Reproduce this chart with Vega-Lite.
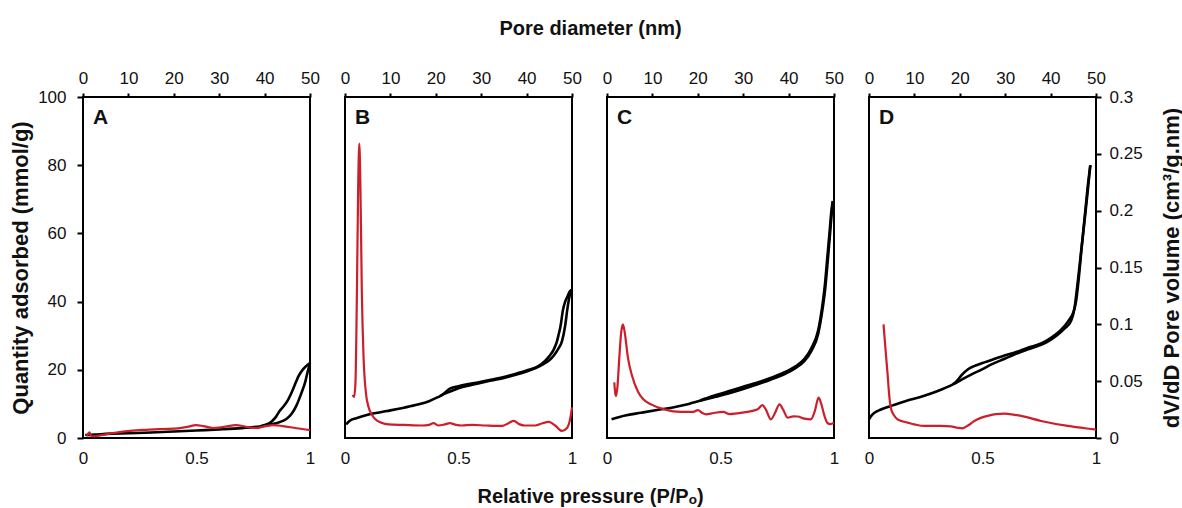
{
  "$schema": "https://vega.github.io/schema/vega-lite/v6.json",
  "padding": {"left": 8, "top": 17, "right": 5, "bottom": 5},
  "config": {
    "font": "Liberation Sans",
    "view": {"stroke": "black", "strokeWidth": 2},
    "axis": {"grid": false, "domain": false, "labelFontSize": 17, "labelColor": "#111", "labelFlush": false, "labelOverlap": false, "tickColor": "black", "tickWidth": 2, "titleFontSize": 20, "titleFontWeight": "bold", "titleColor": "#111"}
  },
  "datasets": {
    "iso": [
      {"panel":"A","branch":"ads","p":0.01,"q":0.9},{"panel":"A","branch":"ads","p":0.05,"q":1.0},{"panel":"A","branch":"ads","p":0.1,"q":1.2},{"panel":"A","branch":"ads","p":0.2,"q":1.4},{"panel":"A","branch":"ads","p":0.3,"q":1.6},{"panel":"A","branch":"ads","p":0.4,"q":1.9},{"panel":"A","branch":"ads","p":0.5,"q":2.2},{"panel":"A","branch":"ads","p":0.6,"q":2.5},{"panel":"A","branch":"ads","p":0.7,"q":2.9},{"panel":"A","branch":"ads","p":0.8,"q":3.6},{"panel":"A","branch":"ads","p":0.85,"q":4.3},{"panel":"A","branch":"ads","p":0.88,"q":5.0},{"panel":"A","branch":"ads","p":0.9,"q":5.8},{"panel":"A","branch":"ads","p":0.92,"q":7.2},{"panel":"A","branch":"ads","p":0.94,"q":9.5},{"panel":"A","branch":"ads","p":0.96,"q":12.8},{"panel":"A","branch":"ads","p":0.98,"q":16.7},{"panel":"A","branch":"ads","p":0.99,"q":19.5},{"panel":"A","branch":"ads","p":1.0,"q":22},
      {"panel":"A","branch":"des","p":1.0,"q":22},{"panel":"A","branch":"des","p":0.99,"q":21.5},{"panel":"A","branch":"des","p":0.97,"q":20.2},{"panel":"A","branch":"des","p":0.95,"q":18.2},{"panel":"A","branch":"des","p":0.94,"q":16.7},{"panel":"A","branch":"des","p":0.92,"q":13.5},{"panel":"A","branch":"des","p":0.9,"q":10.8},{"panel":"A","branch":"des","p":0.88,"q":9.0},{"panel":"A","branch":"des","p":0.866,"q":7.9},{"panel":"A","branch":"des","p":0.85,"q":6.2},{"panel":"A","branch":"des","p":0.83,"q":4.8},{"panel":"A","branch":"des","p":0.8,"q":3.8},{"panel":"A","branch":"des","p":0.78,"q":3.4},

      {"panel":"B","branch":"ads","p":0.005,"q":4.0},{"panel":"B","branch":"ads","p":0.02,"q":5.0},{"panel":"B","branch":"ads","p":0.05,"q":5.8},{"panel":"B","branch":"ads","p":0.1,"q":6.8},{"panel":"B","branch":"ads","p":0.15,"q":7.5},{"panel":"B","branch":"ads","p":0.2,"q":8.1},{"panel":"B","branch":"ads","p":0.26,"q":8.9},{"panel":"B","branch":"ads","p":0.32,"q":9.8},{"panel":"B","branch":"ads","p":0.37,"q":10.8},{"panel":"B","branch":"ads","p":0.41,"q":12.0},{"panel":"B","branch":"ads","p":0.44,"q":13.0},{"panel":"B","branch":"ads","p":0.47,"q":13.8},{"panel":"B","branch":"ads","p":0.5,"q":14.6},{"panel":"B","branch":"ads","p":0.56,"q":15.6},{"panel":"B","branch":"ads","p":0.62,"q":16.5},{"panel":"B","branch":"ads","p":0.7,"q":17.6},{"panel":"B","branch":"ads","p":0.76,"q":18.7},{"panel":"B","branch":"ads","p":0.8,"q":19.5},{"panel":"B","branch":"ads","p":0.84,"q":20.5},{"panel":"B","branch":"ads","p":0.87,"q":21.5},{"panel":"B","branch":"ads","p":0.9,"q":22.8},{"panel":"B","branch":"ads","p":0.92,"q":24.2},{"panel":"B","branch":"ads","p":0.94,"q":26.2},{"panel":"B","branch":"ads","p":0.956,"q":28.4},{"panel":"B","branch":"ads","p":0.97,"q":33},{"panel":"B","branch":"ads","p":0.98,"q":38},{"panel":"B","branch":"ads","p":0.99,"q":41.8},{"panel":"B","branch":"ads","p":1.0,"q":43.5},
      {"panel":"B","branch":"des","p":1.0,"q":43.5},{"panel":"B","branch":"des","p":0.99,"q":43},{"panel":"B","branch":"des","p":0.98,"q":41.5},{"panel":"B","branch":"des","p":0.97,"q":40},{"panel":"B","branch":"des","p":0.96,"q":37.5},{"panel":"B","branch":"des","p":0.95,"q":33},{"panel":"B","branch":"des","p":0.94,"q":30},{"panel":"B","branch":"des","p":0.934,"q":28.4},{"panel":"B","branch":"des","p":0.92,"q":26},{"panel":"B","branch":"des","p":0.9,"q":24},{"panel":"B","branch":"des","p":0.88,"q":22.5},{"panel":"B","branch":"des","p":0.85,"q":21},{"panel":"B","branch":"des","p":0.8,"q":19.8},{"panel":"B","branch":"des","p":0.75,"q":18.8},{"panel":"B","branch":"des","p":0.7,"q":17.9},{"panel":"B","branch":"des","p":0.6,"q":16.5},{"panel":"B","branch":"des","p":0.5,"q":15.2},{"panel":"B","branch":"des","p":0.46,"q":14.4},{"panel":"B","branch":"des","p":0.44,"q":13.3},{"panel":"B","branch":"des","p":0.42,"q":12.3},

      {"panel":"C","branch":"ads","p":0.02,"q":5.5},{"panel":"C","branch":"ads","p":0.08,"q":6.6},{"panel":"C","branch":"ads","p":0.15,"q":7.4},{"panel":"C","branch":"ads","p":0.22,"q":8.2},{"panel":"C","branch":"ads","p":0.3,"q":9.1},{"panel":"C","branch":"ads","p":0.36,"q":10.0},{"panel":"C","branch":"ads","p":0.41,"q":10.9},{"panel":"C","branch":"ads","p":0.48,"q":12.1},{"panel":"C","branch":"ads","p":0.546,"q":13.3},{"panel":"C","branch":"ads","p":0.6,"q":14.4},{"panel":"C","branch":"ads","p":0.66,"q":15.7},{"panel":"C","branch":"ads","p":0.72,"q":17.1},{"panel":"C","branch":"ads","p":0.78,"q":18.7},{"panel":"C","branch":"ads","p":0.83,"q":20.5},{"panel":"C","branch":"ads","p":0.87,"q":22.6},{"panel":"C","branch":"ads","p":0.9,"q":25.5},{"panel":"C","branch":"ads","p":0.93,"q":30.4},{"panel":"C","branch":"ads","p":0.95,"q":38},{"panel":"C","branch":"ads","p":0.96,"q":43},{"panel":"C","branch":"ads","p":0.97,"q":50},{"panel":"C","branch":"ads","p":0.98,"q":57.8},{"panel":"C","branch":"ads","p":0.99,"q":66},{"panel":"C","branch":"ads","p":0.995,"q":69.5},
      {"panel":"C","branch":"des","p":0.995,"q":69.5},{"panel":"C","branch":"des","p":0.99,"q":67.5},{"panel":"C","branch":"des","p":0.98,"q":60},{"panel":"C","branch":"des","p":0.97,"q":52.5},{"panel":"C","branch":"des","p":0.96,"q":45},{"panel":"C","branch":"des","p":0.95,"q":39.5},{"panel":"C","branch":"des","p":0.93,"q":31.5},{"panel":"C","branch":"des","p":0.9,"q":26.3},{"panel":"C","branch":"des","p":0.87,"q":23.2},{"panel":"C","branch":"des","p":0.83,"q":21},{"panel":"C","branch":"des","p":0.78,"q":19.2},{"panel":"C","branch":"des","p":0.72,"q":17.6},{"panel":"C","branch":"des","p":0.66,"q":16.2},{"panel":"C","branch":"des","p":0.6,"q":15},{"panel":"C","branch":"des","p":0.546,"q":13.9},{"panel":"C","branch":"des","p":0.48,"q":12.6},{"panel":"C","branch":"des","p":0.43,"q":11.5},{"panel":"C","branch":"des","p":0.41,"q":11.0},

      {"panel":"D","branch":"ads","p":0.0,"q":5.5},{"panel":"D","branch":"ads","p":0.01,"q":6.5},{"panel":"D","branch":"ads","p":0.024,"q":7.4},{"panel":"D","branch":"ads","p":0.05,"q":8.3},{"panel":"D","branch":"ads","p":0.097,"q":9.4},{"panel":"D","branch":"ads","p":0.16,"q":10.8},{"panel":"D","branch":"ads","p":0.24,"q":12.3},{"panel":"D","branch":"ads","p":0.3,"q":13.7},{"panel":"D","branch":"ads","p":0.37,"q":15.7},{"panel":"D","branch":"ads","p":0.41,"q":17.2},{"panel":"D","branch":"ads","p":0.45,"q":18.6},{"panel":"D","branch":"ads","p":0.5,"q":20.2},{"panel":"D","branch":"ads","p":0.537,"q":21.5},{"panel":"D","branch":"ads","p":0.6,"q":23.3},{"panel":"D","branch":"ads","p":0.64,"q":24.5},{"panel":"D","branch":"ads","p":0.7,"q":26.0},{"panel":"D","branch":"ads","p":0.758,"q":27.3},{"panel":"D","branch":"ads","p":0.8,"q":28.8},{"panel":"D","branch":"ads","p":0.83,"q":30.2},{"panel":"D","branch":"ads","p":0.86,"q":32},{"panel":"D","branch":"ads","p":0.89,"q":34.3},{"panel":"D","branch":"ads","p":0.905,"q":38},{"panel":"D","branch":"ads","p":0.92,"q":46},{"panel":"D","branch":"ads","p":0.935,"q":55},{"panel":"D","branch":"ads","p":0.95,"q":64},{"panel":"D","branch":"ads","p":0.963,"q":72},{"panel":"D","branch":"ads","p":0.975,"q":80},
      {"panel":"D","branch":"des","p":0.975,"q":80},{"panel":"D","branch":"des","p":0.964,"q":74},{"panel":"D","branch":"des","p":0.952,"q":66},{"panel":"D","branch":"des","p":0.937,"q":56},{"panel":"D","branch":"des","p":0.922,"q":45.5},{"panel":"D","branch":"des","p":0.912,"q":40},{"panel":"D","branch":"des","p":0.9,"q":36.8},{"panel":"D","branch":"des","p":0.88,"q":34.5},{"panel":"D","branch":"des","p":0.85,"q":32},{"panel":"D","branch":"des","p":0.8,"q":29.3},{"panel":"D","branch":"des","p":0.758,"q":27.7},{"panel":"D","branch":"des","p":0.7,"q":26.5},{"panel":"D","branch":"des","p":0.64,"q":25.0},{"panel":"D","branch":"des","p":0.6,"q":24.3},{"panel":"D","branch":"des","p":0.537,"q":22.8},{"panel":"D","branch":"des","p":0.5,"q":22},{"panel":"D","branch":"des","p":0.46,"q":21},{"panel":"D","branch":"des","p":0.435,"q":20.1},{"panel":"D","branch":"des","p":0.41,"q":18.6},{"panel":"D","branch":"des","p":0.385,"q":16.6},{"panel":"D","branch":"des","p":0.37,"q":15.8}
    ],
    "psd": [
      {"panel":"A","d":0.8,"v":0.002},{"panel":"A","d":1.1,"v":0.0035},{"panel":"A","d":1.4,"v":0.005},{"panel":"A","d":1.8,"v":0.002},{"panel":"A","d":2.5,"v":0.0015},{"panel":"A","d":4,"v":0.0025},{"panel":"A","d":7,"v":0.0045},{"panel":"A","d":10.4,"v":0.0062},{"panel":"A","d":14,"v":0.0072},{"panel":"A","d":17.6,"v":0.0079},{"panel":"A","d":21,"v":0.0085},{"panel":"A","d":23,"v":0.0098},{"panel":"A","d":24.9,"v":0.0114},{"panel":"A","d":26.5,"v":0.0105},{"panel":"A","d":28.6,"v":0.0088},{"panel":"A","d":31,"v":0.0098},{"panel":"A","d":33.7,"v":0.0114},{"panel":"A","d":36,"v":0.0098},{"panel":"A","d":38.1,"v":0.0088},{"panel":"A","d":40,"v":0.0102},{"panel":"A","d":41.9,"v":0.0114},{"panel":"A","d":44,"v":0.0105},{"panel":"A","d":47,"v":0.0086},{"panel":"A","d":50,"v":0.007},

      {"panel":"B","d":1.7,"v":0.038},{"panel":"B","d":2.0,"v":0.036},{"panel":"B","d":2.3,"v":0.048},{"panel":"B","d":2.6,"v":0.12},{"panel":"B","d":2.9,"v":0.22},{"panel":"B","d":3.15,"v":0.259},{"panel":"B","d":3.4,"v":0.22},{"panel":"B","d":3.7,"v":0.13},{"panel":"B","d":4.1,"v":0.07},{"panel":"B","d":4.6,"v":0.04},{"panel":"B","d":5.2,"v":0.027},{"panel":"B","d":6.0,"v":0.02},{"panel":"B","d":6.7,"v":0.0164},{"panel":"B","d":8,"v":0.0135},{"panel":"B","d":9.6,"v":0.012},{"panel":"B","d":13,"v":0.0115},{"panel":"B","d":17,"v":0.011},{"panel":"B","d":18.5,"v":0.0115},{"panel":"B","d":19.5,"v":0.013},{"panel":"B","d":20.6,"v":0.011},{"panel":"B","d":22,"v":0.012},{"panel":"B","d":23.1,"v":0.013},{"panel":"B","d":24.5,"v":0.0115},{"panel":"B","d":25.7,"v":0.011},{"panel":"B","d":28,"v":0.0115},{"panel":"B","d":31,"v":0.011},{"panel":"B","d":34.6,"v":0.0106},{"panel":"B","d":36,"v":0.013},{"panel":"B","d":37.2,"v":0.015},{"panel":"B","d":38.5,"v":0.012},{"panel":"B","d":39.5,"v":0.011},{"panel":"B","d":41.9,"v":0.011},{"panel":"B","d":43.5,"v":0.013},{"panel":"B","d":44.9,"v":0.0141},{"panel":"B","d":46.3,"v":0.011},{"panel":"B","d":47.8,"v":0.0062},{"panel":"B","d":48.9,"v":0.0088},{"panel":"B","d":49.6,"v":0.017},{"panel":"B","d":50,"v":0.027},

      {"panel":"C","d":1.6,"v":0.049},{"panel":"C","d":1.8,"v":0.04},{"panel":"C","d":2.0,"v":0.037},{"panel":"C","d":2.3,"v":0.045},{"panel":"C","d":2.7,"v":0.07},{"panel":"C","d":3.1,"v":0.092},{"panel":"C","d":3.5,"v":0.1},{"panel":"C","d":3.9,"v":0.093},{"panel":"C","d":4.6,"v":0.071},{"panel":"C","d":5.5,"v":0.055},{"panel":"C","d":6.8,"v":0.041},{"panel":"C","d":8,"v":0.034},{"panel":"C","d":9.7,"v":0.0296},{"panel":"C","d":12.6,"v":0.0252},{"panel":"C","d":16.3,"v":0.0229},{"panel":"C","d":19,"v":0.023},{"panel":"C","d":20,"v":0.0246},{"panel":"C","d":21,"v":0.022},{"panel":"C","d":21.8,"v":0.0208},{"panel":"C","d":23.5,"v":0.022},{"panel":"C","d":25.6,"v":0.0229},{"panel":"C","d":27,"v":0.021},{"panel":"C","d":28.6,"v":0.0217},{"panel":"C","d":31,"v":0.023},{"panel":"C","d":33.2,"v":0.0252},{"panel":"C","d":34.2,"v":0.029},{"panel":"C","d":35,"v":0.025},{"panel":"C","d":36.1,"v":0.0164},{"panel":"C","d":37,"v":0.022},{"panel":"C","d":38,"v":0.0296},{"panel":"C","d":38.8,"v":0.025},{"panel":"C","d":39.8,"v":0.0179},{"panel":"C","d":41,"v":0.019},{"panel":"C","d":42,"v":0.0189},{"panel":"C","d":43.5,"v":0.017},{"panel":"C","d":44.9,"v":0.0164},{"panel":"C","d":45.8,"v":0.024},{"panel":"C","d":46.6,"v":0.0355},{"panel":"C","d":47.2,"v":0.03},{"panel":"C","d":47.9,"v":0.0194},{"panel":"C","d":48.6,"v":0.013},{"panel":"C","d":49.2,"v":0.0122},{"panel":"C","d":50,"v":0.0135},

      {"panel":"D","d":3.2,"v":0.1},{"panel":"D","d":3.5,"v":0.085},{"panel":"D","d":3.8,"v":0.07},{"panel":"D","d":4.1,"v":0.056},{"panel":"D","d":4.4,"v":0.04},{"panel":"D","d":4.8,"v":0.0267},{"panel":"D","d":5.5,"v":0.02},{"panel":"D","d":6.3,"v":0.0164},{"panel":"D","d":7.5,"v":0.0145},{"panel":"D","d":8.5,"v":0.0135},{"panel":"D","d":10,"v":0.012},{"panel":"D","d":12.2,"v":0.0106},{"panel":"D","d":15.8,"v":0.0106},{"panel":"D","d":18,"v":0.0103},{"panel":"D","d":19.5,"v":0.009},{"panel":"D","d":20.6,"v":0.0085},{"panel":"D","d":21.8,"v":0.011},{"panel":"D","d":23.2,"v":0.015},{"panel":"D","d":24.5,"v":0.0175},{"panel":"D","d":26.1,"v":0.0194},{"panel":"D","d":28,"v":0.021},{"panel":"D","d":29.8,"v":0.0214},{"panel":"D","d":31.5,"v":0.0208},{"panel":"D","d":33.5,"v":0.0194},{"panel":"D","d":37.9,"v":0.015},{"panel":"D","d":43.8,"v":0.0106},{"panel":"D","d":49.6,"v":0.0076},{"panel":"D","d":50,"v":0.0074}
    ]
  },
  "spacing": 35,
  "bounds": "flush",
  "hconcat": [
    {
      "width": 227, "height": 341,
      "layer": [
        {"data": {"name": "iso"}, "transform": [{"filter": "datum.panel === 'A'"}],
         "mark": {"type": "line", "color": "black", "strokeWidth": 2.6, "interpolate": "monotone"},
         "encoding": {
           "x": {"field": "p", "type": "quantitative", "scale": {"domain": [0, 1]}, "axis": {"orient": "bottom", "values": [0, 0.5, 1], "format": "~g", "ticks": false, "tickSize": 0, "labelPadding": 12, "title": null}},
           "y": {"field": "q", "type": "quantitative", "scale": {"domain": [0, 100]}, "axis": {"orient": "left", "values": [0, 20, 40, 60, 80, 100], "tickSize": 6, "labelPadding": 11, "title": "Quantity adsorbed (mmol/g)", "titleFontSize": 22, "titlePadding": 5}},
           "detail": {"field": "branch"}
         }},
        {"data": {"values": [{"label": "A"}]},
         "mark": {"type": "text", "fontSize": 21, "fontWeight": "bold", "align": "left", "baseline": "alphabetic", "color": "#111"},
         "encoding": {"x": {"datum": 0.044, "type": "quantitative", "scale": {"domain": [0, 1]}, "axis": null}, "y": {"datum": 92, "type": "quantitative", "scale": {"domain": [0, 100]}, "axis": null}, "text": {"field": "label"}}},
        {"data": {"name": "psd"}, "transform": [{"filter": "datum.panel === 'A'"}],
         "mark": {"type": "line", "color": "#cc1e2b", "strokeWidth": 2.2, "interpolate": "monotone"},
         "encoding": {
           "x": {"field": "d", "type": "quantitative", "scale": {"domain": [0, 50]}, "axis": {"orient": "top", "values": [0, 10, 20, 30, 40, 50], "tickSize": 4, "labelPadding": 6, "title": null}},
           "y": {"field": "v", "type": "quantitative", "scale": {"domain": [0, 0.3]}, "axis": null}
         }}
      ],
      "resolve": {"scale": {"x": "independent", "y": "independent"}, "axis": {"x": "independent", "y": "independent"}}
    },
    {
      "width": 227, "height": 341,
      "layer": [
        {"data": {"name": "iso"}, "transform": [{"filter": "datum.panel === 'B'"}],
         "mark": {"type": "line", "color": "black", "strokeWidth": 2.6, "interpolate": "monotone"},
         "encoding": {
           "x": {"field": "p", "type": "quantitative", "scale": {"domain": [0, 1]}, "axis": {"orient": "bottom", "values": [0, 0.5, 1], "format": "~g", "ticks": false, "tickSize": 0, "labelPadding": 12, "title": "Relative pressure (P/Pₒ)", "titleX": 245, "titleY": 64, "titleAlign": "center", "titleBaseline": "alphabetic"}},
           "y": {"field": "q", "type": "quantitative", "scale": {"domain": [0, 100]}, "axis": null},
           "detail": {"field": "branch"}
         }},
        {"data": {"values": [{"label": "B"}]},
         "mark": {"type": "text", "fontSize": 21, "fontWeight": "bold", "align": "left", "baseline": "alphabetic", "color": "#111"},
         "encoding": {"x": {"datum": 0.044, "type": "quantitative", "scale": {"domain": [0, 1]}, "axis": null}, "y": {"datum": 92, "type": "quantitative", "scale": {"domain": [0, 100]}, "axis": null}, "text": {"field": "label"}}},
        {"data": {"name": "psd"}, "transform": [{"filter": "datum.panel === 'B'"}],
         "mark": {"type": "line", "color": "#cc1e2b", "strokeWidth": 2.2, "interpolate": "monotone"},
         "encoding": {
           "x": {"field": "d", "type": "quantitative", "scale": {"domain": [0, 50]}, "axis": {"orient": "top", "values": [0, 10, 20, 30, 40, 50], "tickSize": 4, "labelPadding": 6, "title": "Pore diameter (nm)", "titleX": 245, "titleY": -63, "titleAlign": "center", "titleBaseline": "alphabetic"}},
           "y": {"field": "v", "type": "quantitative", "scale": {"domain": [0, 0.3]}, "axis": null}
         }}
      ],
      "resolve": {"scale": {"x": "independent", "y": "independent"}, "axis": {"x": "independent", "y": "independent"}}
    },
    {
      "width": 227, "height": 341,
      "layer": [
        {"data": {"name": "iso"}, "transform": [{"filter": "datum.panel === 'C'"}],
         "mark": {"type": "line", "color": "black", "strokeWidth": 2.6, "interpolate": "monotone"},
         "encoding": {
           "x": {"field": "p", "type": "quantitative", "scale": {"domain": [0, 1]}, "axis": {"orient": "bottom", "values": [0, 0.5, 1], "format": "~g", "ticks": false, "tickSize": 0, "labelPadding": 12, "title": null}},
           "y": {"field": "q", "type": "quantitative", "scale": {"domain": [0, 100]}, "axis": null},
           "detail": {"field": "branch"}
         }},
        {"data": {"values": [{"label": "C"}]},
         "mark": {"type": "text", "fontSize": 21, "fontWeight": "bold", "align": "left", "baseline": "alphabetic", "color": "#111"},
         "encoding": {"x": {"datum": 0.044, "type": "quantitative", "scale": {"domain": [0, 1]}, "axis": null}, "y": {"datum": 92, "type": "quantitative", "scale": {"domain": [0, 100]}, "axis": null}, "text": {"field": "label"}}},
        {"data": {"name": "psd"}, "transform": [{"filter": "datum.panel === 'C'"}],
         "mark": {"type": "line", "color": "#cc1e2b", "strokeWidth": 2.2, "interpolate": "monotone"},
         "encoding": {
           "x": {"field": "d", "type": "quantitative", "scale": {"domain": [0, 50]}, "axis": {"orient": "top", "values": [0, 10, 20, 30, 40, 50], "tickSize": 4, "labelPadding": 6, "title": null}},
           "y": {"field": "v", "type": "quantitative", "scale": {"domain": [0, 0.3]}, "axis": null}
         }}
      ],
      "resolve": {"scale": {"x": "independent", "y": "independent"}, "axis": {"x": "independent", "y": "independent"}}
    },
    {
      "width": 227, "height": 341,
      "layer": [
        {"data": {"name": "iso"}, "transform": [{"filter": "datum.panel === 'D'"}],
         "mark": {"type": "line", "color": "black", "strokeWidth": 2.6, "interpolate": "monotone"},
         "encoding": {
           "x": {"field": "p", "type": "quantitative", "scale": {"domain": [0, 1]}, "axis": {"orient": "bottom", "values": [0, 0.5, 1], "format": "~g", "ticks": false, "tickSize": 0, "labelPadding": 12, "title": null}},
           "y": {"field": "q", "type": "quantitative", "scale": {"domain": [0, 100]}, "axis": null},
           "detail": {"field": "branch"}
         }},
        {"data": {"values": [{"label": "D"}]},
         "mark": {"type": "text", "fontSize": 21, "fontWeight": "bold", "align": "left", "baseline": "alphabetic", "color": "#111"},
         "encoding": {"x": {"datum": 0.044, "type": "quantitative", "scale": {"domain": [0, 1]}, "axis": null}, "y": {"datum": 92, "type": "quantitative", "scale": {"domain": [0, 100]}, "axis": null}, "text": {"field": "label"}}},
        {"data": {"name": "psd"}, "transform": [{"filter": "datum.panel === 'D'"}],
         "mark": {"type": "line", "color": "#cc1e2b", "strokeWidth": 2.2, "interpolate": "monotone"},
         "encoding": {
           "x": {"field": "d", "type": "quantitative", "scale": {"domain": [0, 50]}, "axis": {"orient": "top", "values": [0, 10, 20, 30, 40, 50], "tickSize": 4, "labelPadding": 6, "title": null}},
           "y": {"field": "v", "type": "quantitative", "scale": {"domain": [0, 0.3]}, "axis": {"orient": "right", "values": [0, 0.05, 0.1, 0.15, 0.2, 0.25, 0.3], "format": "~g", "tickSize": 5, "labelPadding": 8, "title": "dV/dD Pore volume  (cm³/g.nm)", "titleFontSize": 22, "titleAngle": 270, "titleBaseline": "top", "titlePadding": 19}}
         }}
      ],
      "resolve": {"scale": {"x": "independent", "y": "independent"}, "axis": {"x": "independent", "y": "independent"}}
    }
  ]
}
